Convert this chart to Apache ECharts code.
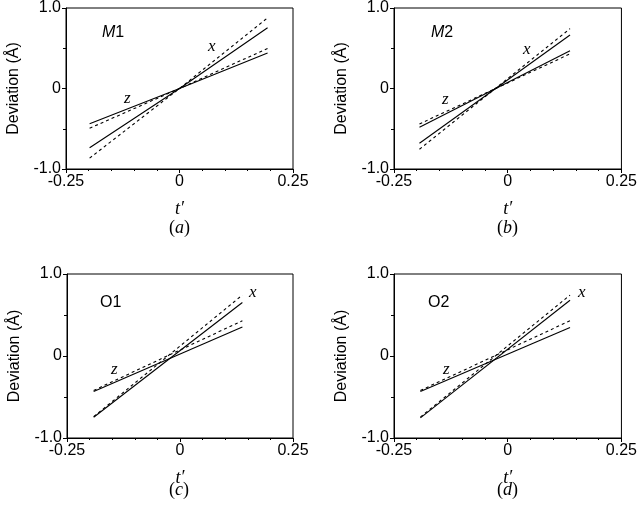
<!DOCTYPE html>
<html><head><meta charset="utf-8">
<script src="https://cdn.jsdelivr.net/npm/echarts@6/dist/echarts.min.js"></script>
<style>html,body{margin:0;padding:0;background:#fff}#c{width:640px;height:508px}</style>
</head><body><div id="c"></div>
<script>
// Panel (a) M1
const tA = [-0.198, 0, 0.194];
const aXsolid = [-0.735, 0, 0.755];
const aXdash = [-0.865, 0, 0.878];
const aZsolid = [-0.437, 0, 0.44];
const aZdash = [-0.494, 0, 0.498];
// Panel (b) M2
const tB = [-0.194, 0.137];
const bXsolid = [-0.68, 0.665];
const bXdash = [-0.755, 0.743];
const bZsolid = [-0.48, 0.47];
const bZdash = [-0.44, 0.43];
// Panel (c) O1
const tC = [-0.191, 0.138];
const cXsolid = [-0.747, 0.653];
const cXdash = [-0.74, 0.743];
const cZsolid = [-0.433, 0.355];
const cZdash = [-0.42, 0.43];
// Panel (d) O2
const tD = [-0.192, 0.137];
const dXsolid = [-0.755, 0.68];
const dXdash = [-0.745, 0.743];
const dZsolid = [-0.433, 0.347];
const dZdash = [-0.42, 0.43];

const xTicks = [-0.25, 0, 0.25];
const yTicks = [-1.0, 0, 1.0];
const panelNames = ['M1', 'M2', 'O1', 'O2'];
const panelTags = ['a', 'b', 'c', 'd'];

const panels = [
  {t: tA, xs: aXsolid, xd: aXdash, zs: aZsolid, zd: aZdash},
  {t: tB, xs: bXsolid, xd: bXdash, zs: bZsolid, zd: bZdash},
  {t: tC, xs: cXsolid, xd: cXdash, zs: cZsolid, zd: cZdash},
  {t: tD, xs: dXsolid, xd: dXdash, zs: dZsolid, zd: dZdash}
];

const gridPos = [
  {left: 66, top: 5, width: 227, height: 164},
  {left: 394, top: 5, width: 228, height: 164},
  {left: 67, top: 274, width: 226, height: 164},
  {left: 394, top: 274, width: 228, height: 164}
];

const sans = 'Liberation Sans, Arial, sans-serif';
const serif = 'Liberation Serif, Times New Roman, serif';

const grid = [], xAxis = [], yAxis = [], series = [];
gridPos.forEach((g, i) => {
  grid.push(Object.assign({show: true, borderColor: '#000', borderWidth: 1, containLabel: false}, g));
  xAxis.push({
    type: 'value', gridIndex: i, min: xTicks[0], max: xTicks[2], interval: 0.25,
    axisLine: {onZero: false, lineStyle: {color: '#000', width: 1}},
    axisTick: {show: true, inside: false, length: 4, lineStyle: {color: '#000'}},
    minorTick: {show: true, splitNumber: 5, length: 2, lineStyle: {color: '#000'}},
    splitLine: {show: false},
    axisLabel: {color: '#000', fontFamily: sans, fontSize: 16, margin: 5,
      formatter: v => (xTicks.indexOf(v) >= 0 ? (v === 0 ? '0' : v.toFixed(2)) : '')},
    name: "t\u2032", nameLocation: 'middle', nameGap: 31,
    nameTextStyle: {color: '#000', fontFamily: serif, fontStyle: 'italic', fontSize: 18}
  });
  yAxis.push({
    type: 'value', gridIndex: i, min: yTicks[0], max: yTicks[2], interval: 1,
    axisLine: {onZero: false, lineStyle: {color: '#000', width: 1}},
    axisTick: {show: true, inside: false, length: 4, lineStyle: {color: '#000'}},
    minorTick: {show: true, splitNumber: 2, length: 3, lineStyle: {color: '#000'}},
    splitLine: {show: false},
    axisLabel: {color: '#000', fontFamily: sans, fontSize: 16, margin: 5,
      formatter: v => (v === 0 ? '0' : v.toFixed(1))},
    name: 'Deviation (\u00C5)', nameLocation: 'middle', nameGap: 44, nameRotate: 90,
    nameTextStyle: {color: '#000', fontFamily: sans, fontSize: 16}
  });
  const p = panels[i];
  const mk = (vals, dashed) => ({
    type: 'line', xAxisIndex: i, yAxisIndex: i, symbol: 'none', silent: true,
    data: p.t.map((t, k) => [t, vals[k]]),
    lineStyle: {color: '#000', width: 1.1, type: dashed ? [3, 3] : 'solid'}
  });
  series.push(mk(p.xs, false), mk(p.xd, true), mk(p.zs, false), mk(p.zd, true));
});

const graphic = [];
const nameLabelPos = [[113, 33], [442, 33], [112, 303], [440, 303]];
const xLabelPos = [[212, 47], [527, 50], [253, 293], [582, 293]];
const zLabelPos = [[128, 99], [446, 100], [115, 370], [447, 370]];
const tagPos = [[180, 228], [508, 228], [180, 490], [508, 490]];

panelNames.forEach((n, i) => {
  const [x, y] = nameLabelPos[i];
  if (n[0] === 'M') {
    graphic.push({type: 'text', x: x - 11, y: y, style: {
      text: '{i|M}{n|' + n.slice(1) + '}', fill: '#000', verticalAlign: 'middle',
      rich: {i: {fontFamily: sans, fontStyle: 'italic', fontSize: 16, fill: '#000'},
             n: {fontFamily: sans, fontSize: 16, fill: '#000'}}}});
  } else {
    graphic.push({type: 'text', x: x - 12, y: y, style: {text: n, fill: '#000', verticalAlign: 'middle',
      font: '16px ' + sans}});
  }
  graphic.push({type: 'text', x: xLabelPos[i][0] - 4, y: xLabelPos[i][1], style: {text: 'x', fill: '#000',
    verticalAlign: 'middle', font: 'italic 17px ' + serif}});
  graphic.push({type: 'text', x: zLabelPos[i][0] - 4, y: zLabelPos[i][1], style: {text: 'z', fill: '#000',
    verticalAlign: 'middle', font: 'italic 17px ' + serif}});
  graphic.push({type: 'text', x: tagPos[i][0] - 11, y: tagPos[i][1], style: {
    text: '({i|' + panelTags[i] + '})', fill: '#000', verticalAlign: 'middle', font: '18px ' + serif,
    rich: {i: {fontFamily: serif, fontStyle: 'italic', fontSize: 18, fill: '#000'}}}});
});

const chart = echarts.init(document.getElementById('c'), null, {renderer: 'canvas'});
chart.setOption({animation: false, backgroundColor: '#fff', grid, xAxis, yAxis, series, graphic});
</script></body></html>
